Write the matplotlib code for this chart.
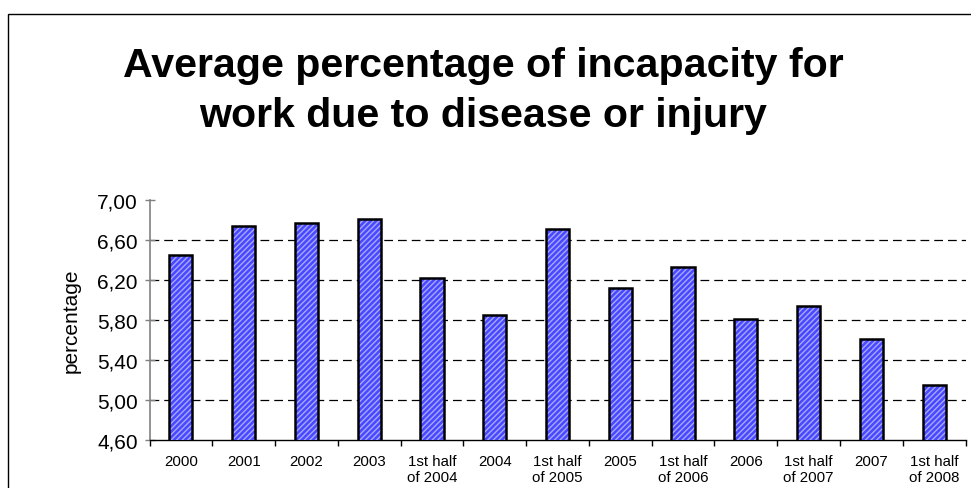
import matplotlib
matplotlib.use("Agg")
import matplotlib.pyplot as plt
import numpy as np
from matplotlib.patches import Rectangle

categories = ["2000", "2001", "2002", "2003", "1st half\nof 2004", "2004",
              "1st half\nof 2005", "2005", "1st half\nof 2006", "2006",
              "1st half\nof 2007", "2007", "1st half\nof 2008"]
values = [6.45, 6.74, 6.77, 6.81, 6.22, 5.85, 6.71, 6.12, 6.33, 5.81, 5.94, 5.61, 5.15]
yticks = [4.6, 5.0, 5.4, 5.8, 6.2, 6.6, 7.0]
gridvals = [5.0, 5.4, 5.8, 6.2, 6.6]
title_lines = ["Average percentage of incapacity for", "work due to disease or injury"]

plt.rcParams['font.family'] = ['Liberation Sans', 'DejaVu Sans']
plt.rcParams['hatch.linewidth'] = 1.0

W, H = 971, 489
fig = plt.figure(figsize=(W / 100, H / 100), dpi=100)

# figure border (extends off the right and bottom edges)
fig.patches.append(Rectangle((8 / W, -0.1), 1.2, (H - 15) / H + 0.1, transform=fig.transFigure,
                             fill=False, edgecolor='black', linewidth=1.0))

ax = fig.add_axes([149.5 / W, (H - 441) / H, (965.5 - 149.5) / W, 240 / H])

x = np.arange(len(categories))
ax.bar(x, values, width=0.37, color='#4848ff', edgecolor='#a8a8ff',
       hatch='//////', linewidth=0, zorder=3)
ax.bar(x, values, width=0.37, fill=False, edgecolor='black', linewidth=1.8, zorder=4)

for g in gridvals:
    ax.axhline(g, color='black', linewidth=0.9, dashes=(7, 4), zorder=1)

ax.set_ylim(4.6, 7.0)
ax.set_xlim(-0.5, len(categories) - 0.5)
ax.set_yticks(yticks)
ax.set_yticklabels([f"{v:.2f}".replace('.', ',') for v in yticks], fontsize=15)
ax.set_xticks(x)
ax.set_xticklabels(categories, fontsize=10.8, linespacing=1.2)
ax.set_xticks(np.arange(len(categories) + 1) - 0.5, minor=True)
ax.tick_params(axis='x', which='major', length=0, pad=10)
ax.tick_params(axis='x', which='minor', length=4, width=1, color='black', direction='out')
ax.tick_params(axis='y', length=7, width=1, color='#808080', direction='inout', pad=5)

for s in ['top', 'right']:
    ax.spines[s].set_visible(False)
ax.spines['left'].set_color('#808080')
ax.spines['left'].set_linewidth(1.2)
ax.spines['bottom'].set_color('black')
ax.spines['bottom'].set_linewidth(1.0)

ax.set_ylabel("percentage", fontsize=15, labelpad=12)

fig.text(483 / W, (H - 76.7) / H, title_lines[0], ha='center', va='baseline',
         fontsize=29.6, fontweight='bold')
fig.text(483 / W, (H - 126.7) / H, title_lines[1], ha='center', va='baseline',
         fontsize=29.6, fontweight='bold')

fig.savefig("out.png", dpi=100)
